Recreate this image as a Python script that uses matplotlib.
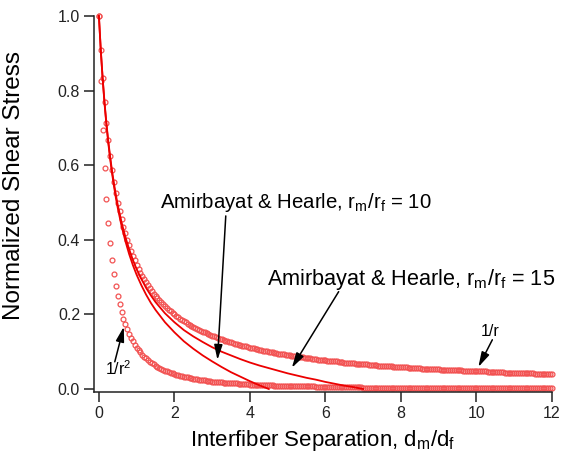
import numpy as np
import matplotlib
matplotlib.use("Agg")
import matplotlib.pyplot as plt

plt.rcParams['font.family'] = ['Liberation Sans', 'DejaVu Sans']

# sample grid of the marker series (d_m/d_f from 0 to 12 in steps of 0.05)
sep = np.linspace(0, 12, 241)

# 1/r  (normalized shear stress)
inv_r = [
    1, .909, .833, .769, .714, .667, .625, .588, .556, .526,
    .5, .476, .455, .435, .417, .4, .385, .370, .357, .345,
    .333, .323, .312, .303, .294, .286, .278, .270, .263, .256,
    .25, .244, .238, .233, .227, .222, .217, .213, .208, .204,
    .2, .196, .192, .189, .185, .182, .179, .175, .172, .169,
    .167, .164, .161, .159, .156, .154, .152, .149, .147, .145,
    .143, .141, .139, .137, .135, .133, .132, .130, .128, .127,
    .125, .123, .122, .120, .119, .118, .116, .115, .114, .112,
    .111, .110, .109, .108, .106, .105, .104, .103, .102, .101,
    .1, .099, .098, .097, .096, .095, .094, .093, .093, .092,
    .091, .090, .089, .088, .088, .087, .086, .085, .085, .084,
    .083, .083, .082, .081, .081, .08, .079, .079, .078, .078,
    .077, .076, .076, .075, .075, .074, .074, .073, .072, .072,
    .071, .071, .070, .070, .069, .069, .068, .068, .068, .067,
    .067, .066, .066, .065, .065, .065, .064, .064, .063, .063,
    .063, .062, .062, .061, .061, .061, .060, .060, .060, .059,
    .059, .058, .058, .058, .057, .057, .057, .056, .056, .056,
    .056, .055, .055, .055, .054, .054, .054, .053, .053, .053,
    .053, .052, .052, .052, .052, .051, .051, .051, .051, .050,
    .05, .050, .050, .049, .049, .049, .049, .048, .048, .048,
    .048, .047, .047, .047, .047, .047, .046, .046, .046, .046,
    .045, .045, .045, .045, .045, .044, .044, .044, .044, .044,
    .043, .043, .043, .043, .043, .043, .042, .042, .042, .042,
    .042, .041, .041, .041, .041, .041, .041, .040, .040, .040,
    .04,
]

# 1/r^2
inv_r2 = [
    1, .826, .694, .592, .510, .444, .391, .346, .309, .277,
    .25, .227, .207, .189, .174, .16, .148, .137, .128, .119,
    .111, .104, .098, .092, .087, .082, .077, .073, .069, .066,
    .062, .059, .057, .054, .052, .049, .047, .045, .043, .042,
    .04, .038, .037, .036, .034, .033, .032, .031, .030, .029,
    .028, .027, .026, .025, .024, .024, .023, .022, .022, .021,
    .020, .020, .019, .019, .018, .018, .017, .017, .016, .016,
    .016, .015, .015, .015, .014, .014, .014, .013, .013, .013,
    .012, .012, .012, .012, .011, .011, .011, .011, .010, .010,
    .010, .010, .010, .009, .009, .009, .009, .009, .009, .008,
    .008, .008, .008, .008, .008, .008, .007, .007, .007, .007,
    .007, .007, .007, .007, .007, .006, .006, .006, .006, .006,
    .006, .006, .006, .006, .006, .005, .005, .005, .005, .005,
    .005, .005, .005, .005, .005, .005, .005, .005, .005, .005,
    .004, .004, .004, .004, .004, .004, .004, .004, .004, .004,
    .004, .004, .004, .004, .004, .004, .004, .004, .004, .004,
    .003, .003, .003, .003, .003, .003, .003, .003, .003, .003,
    .003, .003, .003, .003, .003, .003, .003, .003, .003, .003,
    .003, .003, .003, .003, .003, .003, .003, .003, .003, .003,
    .003, .002, .002, .002, .002, .002, .002, .002, .002, .002,
    .002, .002, .002, .002, .002, .002, .002, .002, .002, .002,
    .002, .002, .002, .002, .002, .002, .002, .002, .002, .002,
    .002, .002, .002, .002, .002, .002, .002, .002, .002, .002,
    .002, .002, .002, .002, .002, .002, .002, .002, .002, .002,
    .002,
]

# Amirbayat & Hearle, rm/rf = 10
ah10_x = [0, .05, .1, .15, .2, .25, .3, .35, .4, .45, .5, .6, .7, .8, .9, 1.0,
          1.125, 1.25, 1.375, 1.5, 1.75, 2, 2.25, 2.5, 2.75, 3, 3.25, 3.5, 3.75,
          4, 4.25, 4.5]
ah10_y = [1, .907, .830, .764, .707, .658, .615, .577, .543, .512, .485, .437,
          .397, .362, .332, .306, .278, .253, .231, .212, .179, .152, .128, .108,
          .090, .074, .059, .045, .033, .021, .010, 0]

# Amirbayat & Hearle, rm/rf = 15
ah15_x = ah10_x + [4.75, 5, 5.25, 5.5, 5.75, 6, 6.25, 6.5, 6.75, 7]
ah15_y = [1, .908, .832, .767, .711, .663, .621, .583, .550, .520, .493, .447,
          .408, .375, .346, .321, .295, .271, .251, .233, .203, .179, .158, .141,
          .126, .112, .100, .090, .080, .071, .063, .056, .049, .042, .036, .030,
          .025, .019, .014, .009, .005, 0]

red = '#ec0000'
mk = '#f25252'

fig = plt.figure(figsize=(5.65, 4.59), dpi=100)
ax = fig.add_axes([94 / 565, 1 - 392 / 459, (552 - 94) / 565, (392 - 16) / 459])

ax.plot(sep, inv_r, 'o', ms=3.5, mfc='none', mec=mk, mew=0.9, clip_on=False)
ax.plot(sep, inv_r2, 'o', ms=3.5, mfc='none', mec=mk, mew=0.9, clip_on=False)
ax.plot(ah10_x, ah10_y, color=red, lw=1.3, clip_on=False)
ax.plot(ah15_x, ah15_y, color=red, lw=1.3, clip_on=False)

ax.set_xlim(-0.13, 12)
ax.set_ylim(-0.008, 1.0)
ax.set_xticks(range(0, 13, 2))
ax.set_yticks([0, 0.2, 0.4, 0.6, 0.8, 1.0])
ax.set_yticklabels(['0.0', '0.2', '0.4', '0.6', '0.8', '1.0'])
for s in ['top', 'right']:
    ax.spines[s].set_visible(False)
for s in ['left', 'bottom']:
    ax.spines[s].set_linewidth(1.1)
    ax.spines[s].set_color('#222222')
ax.tick_params(direction='out', length=7, width=1.1, colors='#222222',
               labelsize=11.5, pad=3)

ax.set_xlabel('Interfiber Separation, d$_\\mathregular{m}$/d$_\\mathregular{f}$',
              fontsize=16, labelpad=5)
ax.set_ylabel('Normalized Shear Stress', fontsize=17.5)
ax.yaxis.set_label_coords(-0.151, 0.548)

arrow = dict(arrowstyle='-|>,head_length=0.9,head_width=0.25', color='black', lw=1.1,
             shrinkA=0, shrinkB=0)
ax.text(1.61, 0.485, 'Amirbayat & Hearle, r$_\\mathregular{m}$/r$_\\mathregular{f}$ = 10',
        fontsize=14.7, ha='left', va='baseline')
ax.annotate('', xy=(3.14, 0.078), xytext=(3.36, 0.464), arrowprops=arrow)
ax.text(4.44, 0.28, 'Amirbayat & Hearle, r$_\\mathregular{m}$/r$_\\mathregular{f}$ = 15',
        fontsize=15.6, ha='left', va='baseline')
ax.annotate('', xy=(5.11, 0.057), xytext=(6.35, 0.261), arrowprops=arrow)
ax.text(10.37, 0.154, '1/r', fontsize=11.5, ha='center', va='center')
ax.annotate('', xy=(10.05, 0.059), xytext=(10.42, 0.132), arrowprops=arrow)
ax.text(0.5, 0.054, '1/r$^\\mathregular{2}$', fontsize=11.5, ha='center', va='center')
ax.annotate('', xy=(0.66, 0.167), xytext=(0.42, 0.073), arrowprops=arrow)

fig.savefig('out.png', dpi=100)
